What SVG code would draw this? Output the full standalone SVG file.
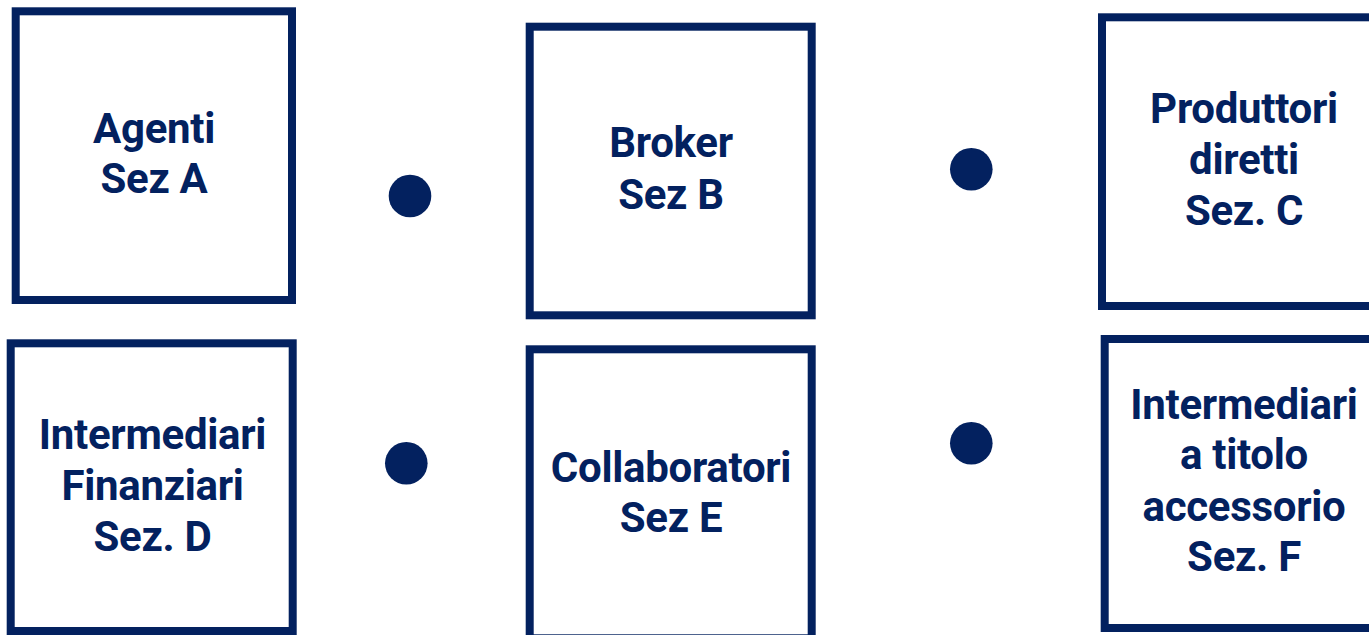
<svg xmlns="http://www.w3.org/2000/svg" width="1369" height="635" viewBox="0 0 1369 635">
<style>
.box{fill:#fff;stroke:#03215f;stroke-width:8}
.dot{fill:#03215f}
.lbl{font-family:Roboto,"Liberation Sans",sans-serif;font-weight:700;font-size:42px;letter-spacing:-0.3px;fill:#03215f;text-anchor:middle}
</style>
<rect width="1369" height="635" fill="#fff"/>
<g id="node-a">
<rect class="box" x="15.7" y="11.3" width="276.3" height="288.7"/>
<text class="lbl" x="154" y="143.3">Agenti</text>
<text class="lbl" x="154" y="193.3">Sez A</text>
</g>
<g id="node-b">
<rect class="box" x="529.7" y="26.7" width="282" height="288.6"/>
<text class="lbl" x="671" y="157.3">Broker</text>
<text class="lbl" x="671" y="209.3">Sez B</text>
</g>
<g id="node-c">
<rect class="box" x="1102" y="17.3" width="282" height="288.7"/>
<text class="lbl" x="1244" y="123.3">Produttori</text>
<text class="lbl" x="1244" y="174.3">diretti</text>
<text class="lbl" x="1244" y="225">Sez. C</text>
</g>
<g id="node-d">
<rect class="box" x="10.7" y="343.3" width="282" height="287.7"/>
<text class="lbl" x="152.5" y="449.3">Intermediari</text>
<text class="lbl" x="152.5" y="500">Finanziari</text>
<text class="lbl" x="152.5" y="551">Sez. D</text>
</g>
<g id="node-e">
<rect class="box" x="529.7" y="349.3" width="282" height="289"/>
<text class="lbl" x="671" y="481.7">Collaboratori</text>
<text class="lbl" x="671" y="532">Sez E</text>
</g>
<g id="node-f">
<rect class="box" x="1104.7" y="339" width="282" height="289"/>
<text class="lbl" x="1244" y="419.3">Intermediari</text>
<text class="lbl" x="1244" y="469.3">a titolo</text>
<text class="lbl" x="1244" y="521">accessorio</text>
<text class="lbl" x="1244" y="571">Sez. F</text>
</g>
<g id="connectors">
<circle class="dot" cx="410" cy="196" r="21.3"/>
<circle class="dot" cx="971.3" cy="169.3" r="21.3"/>
<circle class="dot" cx="406.3" cy="463.3" r="21.3"/>
<circle class="dot" cx="971.3" cy="443.3" r="21.3"/>
</g>
</svg>
